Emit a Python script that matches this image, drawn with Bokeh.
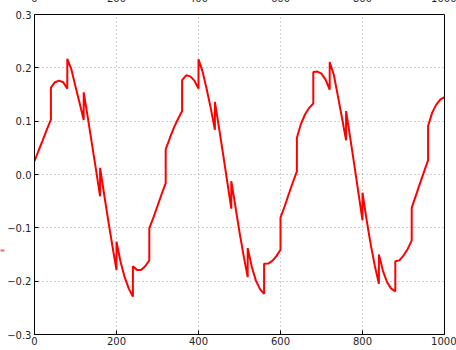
from bokeh.plotting import figure
from bokeh.models import Range1d, FixedTicker, LinearAxis, CustomJSTickFormatter
from bokeh.embed import file_html
from bokeh.resources import INLINE

# sampled signal: each 40-unit block restarts with a step, so block edges repeat x
xs = [0, 10, 20, 30, 40, 40, 50, 60, 70, 80, 80, 90, 100, 110, 120,
      120, 130, 140, 150, 160, 160, 170, 180, 190, 200, 200, 210, 220, 230, 240,
      240, 250, 260, 270, 280, 280, 290, 300, 310, 320, 320, 330, 340, 350, 360,
      360, 370, 380, 390, 400, 400, 410, 420, 430, 440, 440, 450, 460, 470, 480,
      480, 490, 500, 510, 520, 520, 530, 540, 550, 560, 560, 570, 580, 590, 600,
      600, 610, 620, 630, 640, 640, 650, 660, 670, 680, 680, 690, 700, 710, 720,
      720, 730, 740, 750, 760, 760, 770, 780, 790, 800, 800, 810, 820, 830, 840,
      840, 850, 860, 870, 880, 880, 890, 900, 910, 920, 920, 930, 940, 950, 960,
      960, 970, 980, 990, 1000]
ys = [0.025, 0.045, 0.064, 0.084, 0.103,
      0.163, 0.173, 0.176, 0.173, 0.161,
      0.217, 0.197, 0.165, 0.134, 0.102,
      0.154, 0.107, 0.058, 0.009, -0.041,
      0.0125, -0.038, -0.087, -0.134, -0.179,
      -0.126, -0.164, -0.193, -0.214, -0.229,
      -0.172, -0.179, -0.179, -0.172, -0.161,
      -0.101, -0.081, -0.059, -0.037, -0.016,
      0.047, 0.068, 0.088, 0.104, 0.119,
      0.177, 0.186, 0.184, 0.176, 0.161,
      0.216, 0.193, 0.160, 0.124, 0.084,
      0.136, 0.088, 0.038, -0.013, -0.064,
      -0.0125, -0.060, -0.108, -0.152, -0.1925,
      -0.138, -0.173, -0.199, -0.215, -0.224,
      -0.1675, -0.167, -0.162, -0.153, -0.141,
      -0.081, -0.060, -0.037, -0.015, 0.006,
      0.069, 0.095, 0.113, 0.125, 0.133,
      0.192, 0.193, 0.189, 0.178, 0.159,
      0.211, 0.187, 0.147, 0.106, 0.064,
      0.119, 0.069, 0.018, -0.034, -0.086,
      -0.034, -0.085, -0.131, -0.171, -0.205,
      -0.150, -0.181, -0.202, -0.214, -0.219,
      -0.1625, -0.161, -0.152, -0.140, -0.124,
      -0.0625, -0.040, -0.017, 0.005, 0.027,
      0.091, 0.116, 0.131, 0.141, 0.145]

x_ticks = [0, 200, 400, 600, 800, 1000]
y_ticks = [-0.3, -0.2, -0.1, 0.0, 0.1, 0.2, 0.3]
y_tick_labels = ["\u22120.3", "\u22120.2", "\u22120.1", "0.0", "0.1", "0.2", "0.3"]
marker_y = [-0.1434]

FONT = "DejaVu Sans"
TXT = "#262626"

p = figure(frame_width=410, frame_height=320,
           x_range=Range1d(0, 1000), y_range=Range1d(-0.3, 0.3),
           output_backend="svg", toolbar_location=None,
           min_border_left=34, min_border_right=12,
           min_border_top=0, min_border_bottom=15,
           background_fill_color="white", border_fill_color="white")
# the page starts a few pixels into the top axis labels
p.styles = {"margin-top": "-10px"}

p.outline_line_color = "black"
p.outline_line_width = 1

for ax in (p.xaxis[0], p.yaxis[0]):
    ax.major_tick_in = 4
    ax.major_tick_out = 0
    ax.minor_tick_line_color = None
    ax.axis_line_color = "black"
    ax.major_label_text_font = FONT
    ax.major_label_text_font_size = "10px"
    ax.major_label_text_color = TXT

p.xaxis.ticker = FixedTicker(ticks=x_ticks)
p.xaxis.major_label_standoff = 2
p.yaxis.ticker = FixedTicker(ticks=y_ticks)
p.yaxis.major_label_standoff = 3
p.yaxis.major_label_overrides = {t: s for t, s in zip(y_ticks, y_tick_labels)}

# top axis: labels only, sitting against the top edge
top = LinearAxis(ticker=FixedTicker(ticks=x_ticks), major_tick_in=0,
                 major_tick_out=0, minor_tick_line_color=None,
                 axis_line_color=None, major_label_standoff=13,
                 major_label_text_font=FONT, major_label_text_font_size="10px",
                 major_label_text_color=TXT)
p.add_layout(top, "above")

# small red marker left of the value labels
mark = LinearAxis(ticker=FixedTicker(ticks=marker_y), major_tick_in=0,
                  major_tick_out=4, major_tick_line_color="#e05050",
                  major_tick_line_width=2, major_tick_line_alpha=0.85,
                  minor_tick_line_color=None, axis_line_color=None,
                  formatter=CustomJSTickFormatter(code="return ''"),
                  major_label_standoff=0)
p.add_layout(mark, "left")

p.grid.grid_line_color = "#a0a0a0"
p.grid.grid_line_dash = "1 3"
p.grid.grid_line_width = 1
p.xgrid.ticker = FixedTicker(ticks=x_ticks)
p.ygrid.ticker = FixedTicker(ticks=y_ticks)

p.line(xs, ys, line_color="red", line_width=2)

open("out.html", "w").write(file_html(p, INLINE))
